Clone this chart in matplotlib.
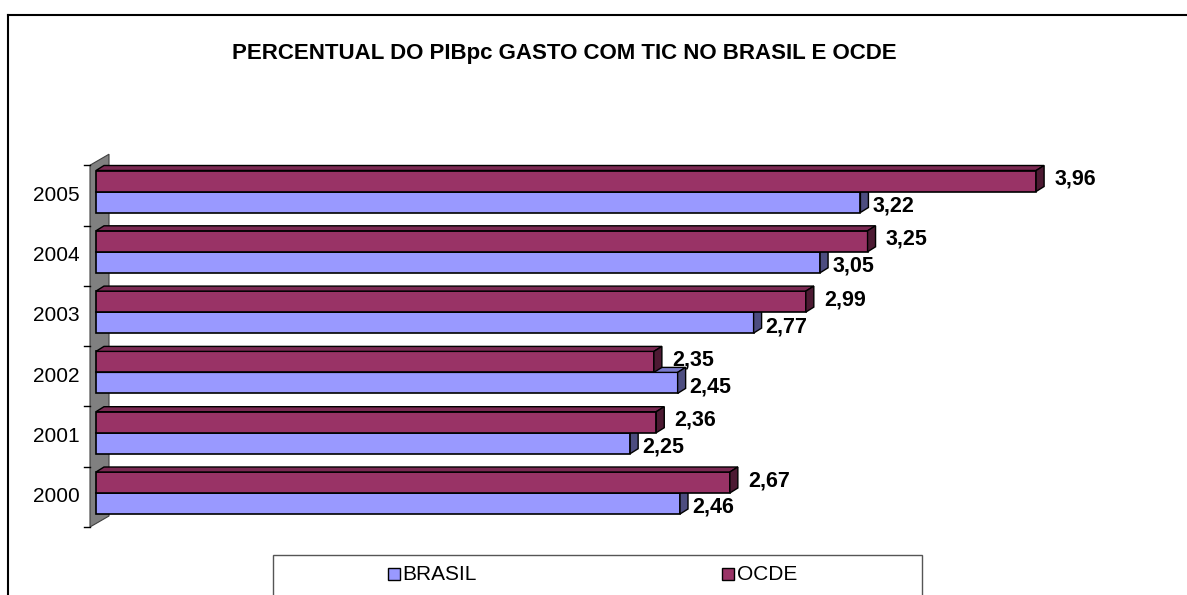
import matplotlib
matplotlib.use("Agg")
import matplotlib.pyplot as plt
from matplotlib.patches import Polygon, Rectangle
from matplotlib.lines import Line2D

plt.rcParams['font.family'] = ['Liberation Sans', 'DejaVu Sans']

# data
years = ['2000', '2001', '2002', '2003', '2004', '2005']
brasil = [2.46, 2.25, 2.45, 2.77, 3.05, 3.22]
ocde = [2.67, 2.36, 2.35, 2.99, 3.25, 3.96]
title = 'PERCENTUAL DO PIBpc GASTO COM TIC NO BRASIL E OCDE'

W, H = 1187, 595
fig = plt.figure(figsize=(W / 100, H / 100), dpi=100)

# axes placed in pixels: value 0 at x=96px, 237.4 px per unit; group i centre at 493-60.3*i px
ax_l, ax_r, ax_t, ax_b = 90, 1187, 130, 545
ax = fig.add_axes([ax_l / W, 1 - ax_b / H, (ax_r - ax_l) / W, (ax_b - ax_t) / H])
pxx = 237.4
pxy = 60.3
ax.set_xlim((ax_l - 96) / pxx, (ax_r - 96) / pxx)
ax.set_ylim((493 - ax_b) / pxy, (493 - ax_t) / pxy)
ax.axis('off')

h = 21 / pxy          # bar thickness
dx, dy = 8 / pxx, 5 / pxy   # bar depth
off = 34 / pxy        # group centre -> lower band edge

# side wall
wdx, wdy = 19 / pxx, 11 / pxy
x0 = (90 - 96) / pxx
ylo, yhi = -off, len(years) - off
ax.add_patch(Polygon([(x0, ylo), (x0 + wdx, ylo + wdy), (x0 + wdx, yhi + wdy), (x0, yhi)],
                     closed=True, facecolor='#808080', edgecolor='#404040', lw=0.8, clip_on=False))
# ticks and category labels
for k in range(len(years) + 1):
    ax.plot([x0 - 6 / pxx, x0], [k - off, k - off], color='black', lw=1, clip_on=False)
for i, yr in enumerate(years):
    ax.text(x0 - 10 / pxx, i + 0.5 - off, yr, ha='right', va='center', fontsize=15)


def bar3d(y, v, front, top, side):
    ax.barh(y, v, height=h, left=0, align='edge', color=front, edgecolor='black', lw=1.2)
    ax.add_patch(Polygon([(0, y + h), (v, y + h), (v + dx, y + h + dy), (dx, y + h + dy)],
                         closed=True, facecolor=top, edgecolor='black', lw=1.0))
    ax.add_patch(Polygon([(v, y), (v + dx, y + dy), (v + dx, y + h + dy), (v, y + h)],
                         closed=True, facecolor=side, edgecolor='black', lw=1.0))


for i in range(len(years)):
    bar3d(i - h, brasil[i], '#9999FF', '#7a7acc', '#4d4d80')
    bar3d(i, ocde[i], '#993366', '#7a2952', '#4d1a33')
    ax.annotate(f"{brasil[i]:.2f}".replace('.', ','), xy=(brasil[i], i - h / 2),
                xytext=(12, -4), textcoords='offset pixels', ha='left', va='center',
                fontsize=15.5, fontweight='bold')
    ax.annotate(f"{ocde[i]:.2f}".replace('.', ','), xy=(ocde[i], i + h / 2),
                xytext=(18, 2), textcoords='offset pixels', ha='left', va='center',
                fontsize=15.5, fontweight='bold')

# title
fig.text(564 / W, 1 - 54 / H, title, ha='center', va='center', fontsize=16, fontweight='bold')

# outer frame
fig.add_artist(Line2D([8 / W, 1.0], [1 - 15 / H, 1 - 15 / H], transform=fig.transFigure,
                      color='black', lw=1.5))
fig.add_artist(Line2D([8 / W, 8 / W], [1 - 15 / H, 0], transform=fig.transFigure,
                      color='black', lw=1.5))

# legend box
fig.add_artist(Rectangle((273 / W, -0.01), (922 - 273) / W, (H - 555) / H + 0.01,
                         transform=fig.transFigure, facecolor='white', edgecolor='#555555', lw=1))
for mx, tx, lab, col in [(388, 402, 'BRASIL', '#9999FF'), (722, 737, 'OCDE', '#993366')]:
    fig.add_artist(Rectangle((mx / W, 1 - 580 / H), 12 / W, 12 / H, transform=fig.transFigure,
                             facecolor=col, edgecolor='black', lw=1))
    fig.text(tx / W, 1 - 574 / H, lab, ha='left', va='center', fontsize=15)

fig.savefig('out.png', dpi=100)
